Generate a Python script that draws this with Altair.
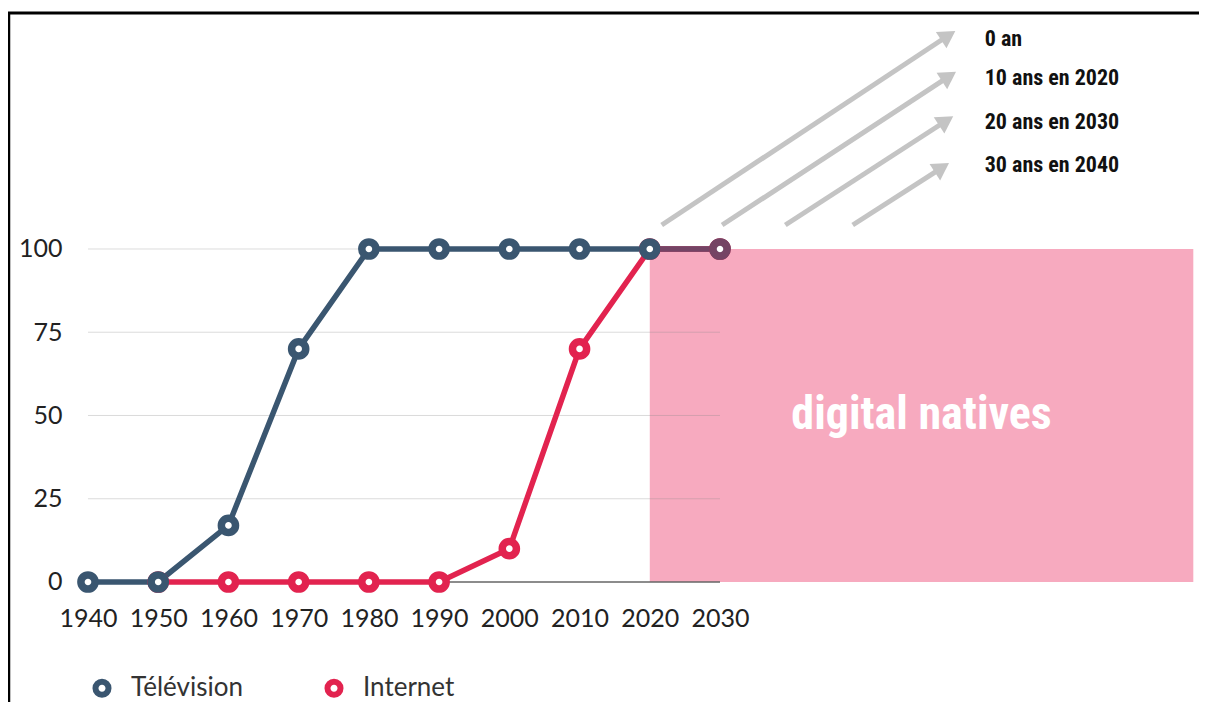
import altair as alt
import pandas as pd

# ---- data ----
years = [1940, 1950, 1960, 1970, 1980, 1990, 2000, 2010, 2020, 2030]
tv_values = [0, 0, 17, 70, 100, 100, 100, 100, 100, 100]
internet_years = [1950, 1960, 1970, 1980, 1990, 2000, 2010, 2020, 2030]
internet_values = [0, 0, 0, 0, 0, 10, 70, 100, 100]
series_names = ["Télévision", "Internet"]
y_ticks = [0, 25, 50, 75, 100]
grid_values = [25, 50, 75, 100]

zone_start, zone_end, zone_low, zone_high = 2020, 2097.4, 0, 100
zone_label = "digital natives"

arrow_start_x = [2021.7, 2030.3, 2039.3, 2048.9]
arrow_start_y = [107.2, 107.2, 107.2, 107.2]
arrow_tip_x = [2063.5, 2063.6, 2063.2, 2062.6]
arrow_tip_y = [165.5, 153.2, 139.9, 125.8]
arrow_labels = ["0 an", "10 ans en 2020", "20 ans en 2030", "30 ans en 2040"]
arrow_label_x = [2067.7, 2067.7, 2067.7, 2067.7]
arrow_label_y = [163.1, 151.4, 138.1, 125.2]

# ---- styles ----
TV_COLOR = "#3a5670"
NET_COLOR = "#e2234f"
PINK = "#f7aabf"
ARROW_GRAY = "#c4c4c4"
FONT = "Lato"
COND = "Liberation Sans Narrow, Roboto Condensed, DejaVu Sans Condensed, Liberation Sans"

W, H = 1191, 694
xscale = alt.Scale(domain=[1928.61, 2098.21], nice=False, zero=False)
yscale = alt.Scale(domain=[-36.04, 172.37], nice=False, zero=False)

x_axis = alt.Axis(
    values=years, format="d", orient="bottom", offset=574 - H, domain=False, ticks=False, tickSize=0,
    grid=False, labelPadding=24, labelFont=FONT, labelFontSize=25, labelColor="#222", title=None,
    labelFlush=False, labelOverlap=False)
y_axis = alt.Axis(
    values=y_ticks, orient="left", offset=-60, domain=False, ticks=False, tickSize=0, grid=False,
    labelPadding=6, labelFont=FONT, labelFontSize=25, labelColor="#222", title=None,
    labelFlush=False, labelOverlap=False)

rows = [{"year": y, "value": v, "series": "Télévision"} for y, v in zip(years, tv_values)]
rows += [{"year": y, "value": v, "series": "Internet"} for y, v in zip(internet_years, internet_values)]
df = pd.DataFrame(rows)

legend = alt.Legend(
    title=None, orient="none", legendX=81, legendY=667, direction="horizontal",
    symbolType="circle", symbolSize=170, symbolStrokeWidth=6, symbolFillColor="white",
    labelFont=FONT, labelFontSize=26, labelColor="#333", labelOffset=16,
    columnPadding=72, padding=0,
)
color = alt.Color("series:N", scale=alt.Scale(domain=series_names, range=[TV_COLOR, NET_COLOR]), legend=legend)

X = lambda f: alt.X(f, type="quantitative", scale=xscale, axis=x_axis)
Y = lambda f: alt.Y(f, type="quantitative", scale=yscale, axis=y_axis)

dummy = alt.Data(values=[{"k": 0}])

zone_df = pd.DataFrame({"x": [zone_start], "x2": [zone_end], "y": [zone_low], "y2": [zone_high],
                        "cx": [(zone_start + zone_end) / 2], "cy": [(zone_low + zone_high) / 2], "t": [zone_label]})
zone = alt.Chart(zone_df).mark_rect(color=PINK).encode(x=X("x"), x2="x2", y=Y("y"), y2="y2")
zone_text = alt.Chart(zone_df).mark_text(color="white", font=COND, fontWeight="bold", fontSize=46,
                                         align="center", baseline="middle").encode(x=X("cx"), y=Y("cy"), text="t:N")

grid_df = pd.DataFrame({"y": grid_values, "x": [years[0]] * len(grid_values), "x2": [years[-1]] * len(grid_values)})
grid = alt.Chart(grid_df).mark_rule(color="#888", opacity=0.3, strokeWidth=1).encode(x=X("x"), x2="x2", y=Y("y"))

base_df = pd.DataFrame({"y": [0], "x": [years[0]], "x2": [years[-1]]})
baseline = alt.Chart(base_df).mark_rule(color="#666", strokeWidth=1.5).encode(x=X("x"), x2="x2", y=Y("y"))

arrow_df = pd.DataFrame({"x": arrow_start_x, "y": arrow_start_y, "x2": arrow_tip_x, "y2": arrow_tip_y})
shafts = alt.Chart(arrow_df).mark_rule(color=ARROW_GRAY, strokeWidth=5, x2Offset=-11.5, y2Offset=7.6).encode(
    x=X("x"), y=Y("y"), x2="x2", y2="y2")
heads = alt.Chart(arrow_df).mark_point(shape="triangle-up", filled=True, color=ARROW_GRAY, size=380, angle=57,
                                       opacity=1, xOffset=-7.0, yOffset=4.6).encode(x=X("x2"), y=Y("y2"))
label_df = pd.DataFrame({"x": arrow_label_x, "y": arrow_label_y, "t": arrow_labels})
labels = alt.Chart(label_df).mark_text(font=COND, fontWeight="bold", fontSize=22, color="#111",
                                       align="left", baseline="middle").encode(x=X("x"), y=Y("y"), text="t:N")

net = df[df.series == "Internet"]
tv = df[df.series == "Télévision"]
net_line = alt.Chart(net).mark_line(strokeWidth=5.5).encode(x=X("year"), y=Y("value"), color=color)
tv_line = alt.Chart(tv).mark_line(strokeWidth=5.5).encode(x=X("year"), y=Y("value"), color=color)
overlap = alt.Chart(net).transform_filter(alt.datum.year >= 2020).mark_line(
    strokeWidth=5.5, color=NET_COLOR, opacity=0.35).encode(x=X("year"), y=Y("value"))
net_pts = alt.Chart(net).mark_point(filled=False, fill="white", strokeWidth=7.5, size=200, opacity=1).encode(
    x=X("year"), y=Y("value"), color=color)
tv_pts = alt.Chart(tv).mark_point(filled=False, fill="white", strokeWidth=7.5, size=200, opacity=1).encode(
    x=X("year"), y=Y("value"), color=color)
overlap_pts = alt.Chart(net).transform_filter(alt.datum.year >= 2030).mark_point(
    filled=False, strokeWidth=7.5, size=200, color=NET_COLOR, opacity=0.35).encode(x=X("year"), y=Y("value"))

frame_left = alt.Chart(dummy).mark_rule(color="black", strokeWidth=2.5).encode(
    x=alt.value(1), y=alt.value(4), y2=alt.value(H))
frame_top = alt.Chart(dummy).mark_rule(color="black", strokeWidth=3).encode(
    x=alt.value(0), x2=alt.value(W), y=alt.value(5))

chart = alt.layer(
    zone, grid, baseline, zone_text, shafts, heads, labels,
    net_line, tv_line, overlap, net_pts, tv_pts, overlap_pts, frame_left, frame_top,
).properties(
    width=W, height=H, autosize=alt.AutoSizeParams(type="none"), padding=0, background="white",
).configure_view(stroke=None)

chart.save("out.html", embed_options={"renderer": "svg", "actions": False})
